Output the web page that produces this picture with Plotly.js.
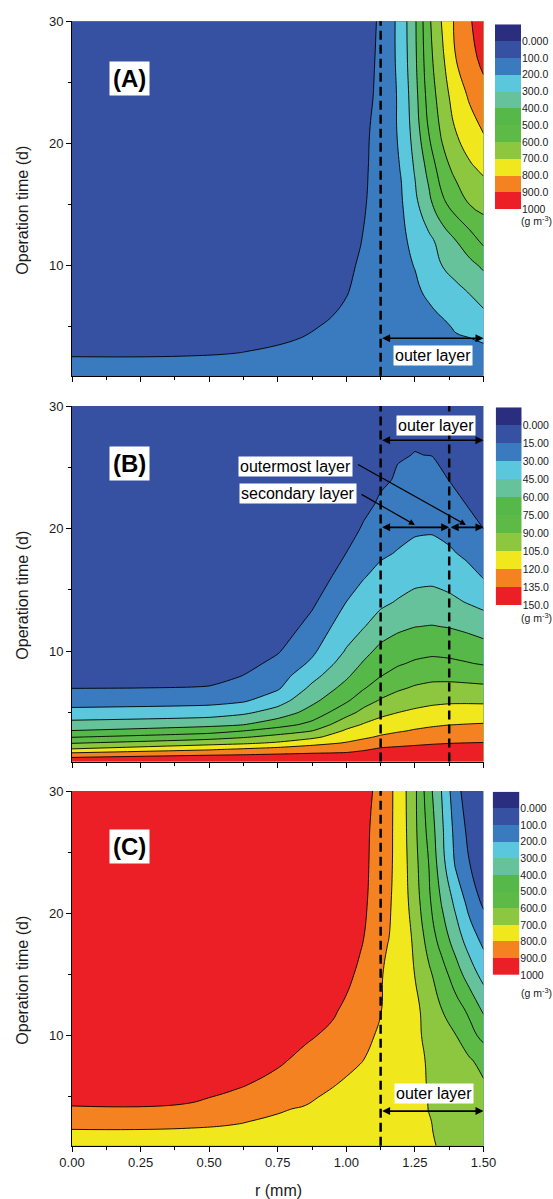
<!DOCTYPE html>
<html><head><meta charset="utf-8">
<script src="https://cdn.plot.ly/plotly-3.0.1.min.js"></script>
<style>html,body{margin:0;padding:0;background:#fff}#chart{width:553px;height:1199px}</style>
</head><body><div id="chart"></div>
<script>
// ---------- data ----------
const levelLabelsA = ['0.000','100.0','200.0','300.0','400.0','500.0','600.0','700.0','800.0','900.0','1000'];
const levelLabelsB = ['0.000','15.00','30.00','45.00','60.00','75.00','90.00','105.0','120.0','135.0','150.0'];
const levelLabelsC = ['0.000','100.0','200.0','300.0','400.0','500.0','600.0','700.0','800.0','900.0','1000'];

// Panel A grid (r in mm, t in d, z in g m-3)
const rA = [0,0.4,0.6,0.75,0.85,0.95,1.0,1.05,1.1,1.15,1.2,1.25,1.3,1.35,1.4,1.45,1.5];
const tA = [1,2,3,4,5,6,8,10,12,15,18,21,24,27,30];
const zA = [
 [130,130,130,130,131,133,135,137,139,141,143,145,147,149,151,153,155],
 [115,115,117,120,123,127,130,133,136,139,142,145,148,151,154,157,160],
 [88,90,97,108,116,125,130,136,142,148,153,158,163,167,171,175,178],
 [70,75,82,92,103,118,127,137,147,157,166,175,183,189,193,197,212],
 [55,60,68,80,92,108,117,126,135,144,153,163,174,188,207,226,245],
 [45,50,58,68,80,99,112,125,138,150,162,174,188,204,225,252,285],
 [35,40,47,56,65,80,95,118,140,160,177,190,212,240,278,310,345],
 [28,32,38,46,54,66,80,110,140,165,185,202,250,301,340,375,415],
 [22,26,31,38,45,56,68,96,135,165,184,220,275,335,398,455,520],
 [15,18,22,27,33,42,52,75,130,160,190,275,370,475,545,601,630],
 [12,14,17,21,26,34,42,62,125,158,205,310,430,560,630,685,720],
 [10,12,14,17,21,28,35,52,120,168,215,345,501,620,701,760,805],
 [8,10,12,14,18,24,30,45,102,158,222,365,540,655,750,815,870],
 [7,8,10,12,15,20,26,40,95,155,235,380,565,685,801,870,925],
 [6,7,9,11,13,18,23,36,88,150,240,385,580,710,820,890,960]
];

// Panel B grid
const rB = [0,0.5,0.625,0.75,0.875,1.0,1.0625,1.125,1.1875,1.25,1.3125,1.375,1.4375,1.5];
const tB = [1,1.5,2,2.5,3,3.5,4,5,6,7,8,9,10,12,14,16,18,20,22,24,26,28,30];
const zB = [
 [145,145,146,147,148,148,148,148,148,148,148,148,148,148],
 [130,135.4,136.5,137.6,138.6,139.2,140.8,142.3,142.8,143.1,143.4,143.6,143.7,143.8],
 [106,118.1,121.6,125.4,128,130.2,133.3,136.7,137.6,138.2,138.8,139.2,139.4,139.7],
 [89.4,99.8,102.7,107.1,115.4,121.1,125,129.5,131.6,133,134.1,134.8,135.2,135.5],
 [74.2,83.7,88.6,94.6,101.4,113.9,117.7,121.6,124.8,127.1,128.7,129.8,130.3,130.7],
 [60.5,69,74.9,82.5,89.9,107.1,111.9,116,118.6,121.2,123.3,124.8,125.4,125.9],
 [51.1,56.3,59.9,69,79.3,99.5,106.2,111,114.1,116.5,118.3,119.8,120.5,121.1],
 [34.5,37.5,42.2,51.3,65.8,84.5,94.2,101,104.9,107.6,109.8,111.1,111.5,111.6],
 [23.5,24.9,27.8,38.2,56.1,72.6,83.3,91,96.2,99.5,101.5,102.5,102.5,102.2],
 [14.7,15.3,21.4,28.1,48.2,64.7,73.75,82.5,87.75,91.6,93.7,94.2,93.7,93],
 [12,13.5,15.1,23.4,40.3,57.7,67.5,74.5,80.25,84.1,86.1,85.9,84.8,83.3],
 [10.5,11.5,10.2,18.75,32.4,51.9,61.25,69.2,73.4,76.8,78.7,77.8,75.9,73.8],
 [9.5,10,8.5,13.8,27.4,46.2,55.4,63.9,68,70.8,72.1,71.2,69.4,66.9],
 [8,8.5,6.2,6.4,19.9,37.9,44.25,52.3,57.2,59.8,60.6,59.4,56.9,53.3],
 [7,7.5,5.8,5.5,12.5,30.1,36.75,42,46.1,49.8,50.7,48.3,44.5,40.8],
 [6,6.5,5.4,5.1,5.2,22.7,29.4,34.5,38.25,41.2,41.9,39.6,35.5,29.6],
 [5.5,6,5.1,4.8,4.5,15.1,23,27.9,30.75,33.9,34.7,31.9,27.4,22.3],
 [5,5.5,4.9,4.6,4.3,8.6,16.6,22.5,26,28,28.4,25.8,21.1,14.9],
 [4.5,5,4.6,4.4,4.1,7,11.1,17.1,21.6,23.9,23.9,20.1,14.8,13.5],
 [4,4.5,4.3,4.2,3.9,6.5,9,12.8,16.2,19.7,19.3,14.7,13.5,12.5],
 [3.5,4,4.1,4,3.8,6,8,11,14.3,15.2,14.8,13.5,12.5,11.6],
 [3.2,3.6,3.9,3.8,3.7,5.5,7.5,10,13.3,13.8,13.8,12.6,11.7,10.8],
 [3,3.3,3.7,3.6,3.6,5,7,9.5,12.5,13.5,13,12,11,10]
];

// Panel C grid
const rC = [0,0.4,0.6,0.75,0.85,0.95,1.0,1.05,1.1,1.15,1.2,1.25,1.3,1.35,1.4,1.45,1.5];
const tC = [1,2,3,4,5,6,8,10,12,15,18,21,24,27,30];
const zC = [
 [765,765,764,762,760,757,755,750,745,738,728,717,707,694,680,665,650],
 [790,789,786,782,778,773,770,765,758,750,738,726,705,690,678,664,650],
 [820,816,804.5,791,784,776,772,767,760,752,740,727,703,688,674,658,645],
 [890,884,860,806,794,775,770,765,758,750,738,724,699,684,670,655,640],
 [930,925,880,845,815,785,775,768,760,752,740,722,698,680,665,645,620],
 [950,945,912,870,840,805,788,775,765,755,742,725,695,675,658,638,610],
 [970,966,950,915,875,840,825,805,785,768,750,728,690,665,640,608,570],
 [980,978,968,945,915,880,855,830,801,776,755,728,670,635,601,535,470],
 [985,984,978,965,945,912,880,855,825,780,755,725,660,601,545,480,390],
 [990,989,985,978,965,945,925,880,840,780,760,698,620,540,445,350,265],
 [993,992,989,984,975,960,945,915,860,805,760,680,560,450,345,245,170],
 [995,994,992,988,982,970,958,935,870,815,760,645,520,385,270,160,80],
 [996,995,994,991,986,976,966,945,875,825,755,630,501,330,185,101,40],
 [997,996,995,993,989,980,970,950,880,830,750,620,470,310,160,70,20],
 [998,997,996,994,991,984,975,955,895,835,745,620,440,290,130,45,10]
];

const palette = ['#2B2E7E','#3650A2','#3A7BBF','#5BC7DC','#66C29A','#56B848','#5DBA46','#8DC63F','#F1E71D','#F58220','#EC1F26'];

// ---------- helpers ----------
const W = 553, H = 1199;
const fx = p => p / W;
const fy = p => 1 - p / H;
const FONT = 'Liberation Sans, Arial, Helvetica, sans-serif';

const contourScale = palette.map((c, i) => [i / 11, c]).concat([[1, palette[10]]]);
const barScale = palette.map((c, i) => [i / 10, c]);

function contourTrace(x, y, z, xa, ya, end, size, smooth) {
  return {
    type: 'contour', x: x, y: y, z: z, xaxis: xa, yaxis: ya,
    autocontour: false,
    contours: {start: 0, end: end, size: size, coloring: 'fill', showlines: true},
    colorscale: contourScale, showscale: false,
    line: {color: '#000', width: 0.9, smoothing: smooth},
    hoverinfo: 'skip'
  };
}
function barTrace(xa, ya) {
  return {
    type: 'heatmap', x: [0], y: palette.map((c, i) => i + 0.5), z: palette.map((c, i) => [i]),
    colorscale: barScale, zmin: 0, zmax: 10, showscale: false, xaxis: xa, yaxis: ya, hoverinfo: 'skip'
  };
}

const data = [
  contourTrace(rA, tA, zA, 'x', 'y', 1000, 100, 1.3),
  contourTrace(rB, tB, zB, 'x2', 'y2', 150, 15, 0.5),
  contourTrace(rC, tC, zC, 'x3', 'y3', 1000, 100, 1.3),
  barTrace('x4', 'y4'),
  barTrace('x5', 'y5'),
  barTrace('x6', 'y6')
];

const xDom = [fx(72), fx(483.5)];
const panels = [
  {top: 21.3, bot: 375.7},
  {top: 406, bot: 761.5},
  {top: 791, bot: 1145.7}
];

function mainX(anchor, labels) {
  return {
    domain: xDom, anchor: anchor, range: [0, 1.5],
    tickmode: 'linear', tick0: 0, dtick: 0.25, tickformat: '.2f',
    showticklabels: labels, ticks: 'outside', ticklen: 5, tickwidth: 1, tickcolor: '#000',
    minor: {ticks: 'outside', ticklen: 3, tickwidth: 1, tickcolor: '#000', dtick: 0.125, tick0: 0},
    showline: true, linecolor: '#000', linewidth: 1, showgrid: false, zeroline: false,
    tickfont: {family: FONT, size: 13, color: '#1a1a1a'}
  };
}
function mainY(anchor, p) {
  return {
    domain: [fy(p.bot), fy(p.top)], anchor: anchor, range: [1, 30],
    tickmode: 'linear', tick0: 0, dtick: 10,
    ticks: 'outside', ticklen: 5, tickwidth: 1, tickcolor: '#000',
    minor: {ticks: 'outside', ticklen: 3, tickwidth: 1, tickcolor: '#000', dtick: 5, tick0: 0},
    showline: true, linecolor: '#000', linewidth: 1, showgrid: false, zeroline: false,
    tickfont: {family: FONT, size: 13, color: '#1a1a1a'}
  };
}
function barX(anchor, x0, x1) {
  return {domain: [fx(x0), fx(x1)], anchor: anchor, range: [-0.5, 0.5], visible: false};
}
function barY(anchor, y0, y1, labels) {
  return {
    domain: [fy(y1), fy(y0)], anchor: anchor, range: [11, 0], side: 'right',
    tickmode: 'array', tickvals: labels.map((l, i) => i + 1), ticktext: labels,
    ticks: '', showline: false, showgrid: false, zeroline: false,
    tickfont: {family: FONT, size: 10.5, color: '#1a1a1a'}
  };
}

const layout = {
  width: W, height: H, margin: {l: 0, r: 0, t: 0, b: 0},
  paper_bgcolor: '#fff', plot_bgcolor: '#fff', showlegend: false,
  font: {family: FONT, color: '#1a1a1a'},
  xaxis: mainX('y', false), yaxis: mainY('x', panels[0]),
  xaxis2: mainX('y2', false), yaxis2: mainY('x2', panels[1]),
  xaxis3: mainX('y3', true), yaxis3: mainY('x3', panels[2]),
  xaxis4: barX('y4', 495, 521), yaxis4: barY('x4', 24.3, 209, levelLabelsA),
  xaxis5: barX('y5', 495.7, 521.7), yaxis5: barY('x5', 407.3, 605, levelLabelsB),
  xaxis6: barX('y6', 492.7, 519.3), yaxis6: barY('x6', 791.7, 975, levelLabelsC),
  shapes: [], annotations: []
};

const dash = {color: '#000', width: 2.5, dash: '9px,5px'};
function vline(xa, ya, x) {
  layout.shapes.push({type: 'line', xref: xa, yref: ya + ' domain', x0: x, x1: x, y0: 0, y1: 1, line: dash, layer: 'above'});
}
vline('x', 'y', 1.125);
vline('x2', 'y2', 1.125);
vline('x2', 'y2', 1.375);
vline('x3', 'y3', 1.125);

function dbl(xa, ya, x0, x1, y) {
  layout.annotations.push({xref: xa, yref: ya, axref: xa, ayref: ya, x: x1, y: y, ax: x0, ay: y, text: '',
    showarrow: true, arrowside: 'end+start', arrowhead: 2, startarrowhead: 2, arrowsize: 1, startarrowsize: 1,
    arrowwidth: 1.6, arrowcolor: '#000', standoff: 0, startstandoff: 0});
}
function ptr(xa, ya, x0, y0, x1, y1) {
  layout.annotations.push({xref: xa, yref: ya, axref: xa, ayref: ya, x: x1, y: y1, ax: x0, ay: y0, text: '',
    showarrow: true, arrowhead: 2, arrowsize: 1, arrowwidth: 1.2, arrowcolor: '#000', standoff: 0});
}
function box(xa, ya, x, y, text, size, bold) {
  layout.annotations.push({xref: xa, yref: ya, x: x, y: y, text: bold ? '<b>' + text + '</b>' : text,
    showarrow: false, bgcolor: '#fff', borderpad: bold ? 3 : 1, xanchor: 'center', yanchor: 'middle',
    font: {family: FONT, size: size, color: '#000'}});
}

// Panel A
box('x', 'y', 0.21, 25.3, '(A)', 24, true);
dbl('x', 'y', 1.125, 1.5, 4.06);
box('x', 'y', 1.316, 2.69, 'outer layer', 16, false);
// Panel B
box('x2', 'y2', 0.21, 25.3, '(B)', 24, true);
box('x2', 'y2', 1.327, 28.45, 'outer layer', 16, false);
dbl('x2', 'y2', 1.125, 1.5, 27.2);
dbl('x2', 'y2', 1.125, 1.375, 20.1);
dbl('x2', 'y2', 1.375, 1.5, 20.1);
box('x2', 'y2', 0.816, 25.1, 'outermost layer', 16, false);
box('x2', 'y2', 0.822, 22.9, 'secondary layer', 16, false);
ptr('x2', 'y2', 1.05, 22.86, 1.25, 20.3);
ptr('x2', 'y2', 1.037, 25.3, 1.436, 20.3);
// Panel C
box('x3', 'y3', 0.21, 25.5, '(C)', 24, true);
dbl('x3', 'y3', 1.125, 1.5, 3.83);
box('x3', 'y3', 1.32, 5.3, 'outer layer', 16, false);

// axis titles
[210, 595, 980].forEach(yc => layout.annotations.push({xref: 'paper', yref: 'paper', x: fx(21.7), y: fy(yc),
  text: 'Operation time (d)', textangle: -90, showarrow: false, xanchor: 'center', yanchor: 'middle',
  font: {family: FONT, size: 16, color: '#1a1a1a'}}));
layout.annotations.push({xref: 'paper', yref: 'paper', x: fx(278), y: fy(1190), text: 'r (mm)', showarrow: false,
  xanchor: 'center', yanchor: 'middle', font: {family: FONT, size: 16, color: '#1a1a1a'}});
// colour bar units
[220, 617, 992].forEach(yc => layout.annotations.push({xref: 'paper', yref: 'paper', x: fx(536), y: fy(yc),
  text: '(g m<sup>-3</sup>)', showarrow: false, xanchor: 'center', yanchor: 'middle',
  font: {family: FONT, size: 10.5, color: '#1a1a1a'}}));

Plotly.newPlot('chart', data, layout, {staticPlot: true, displayModeBar: false});
</script></body></html>
